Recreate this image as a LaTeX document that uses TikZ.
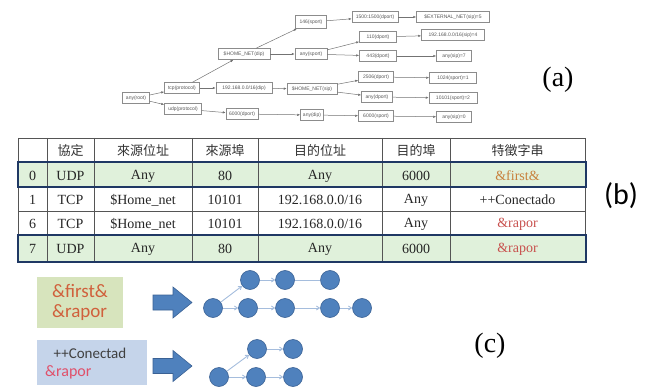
\documentclass[tikz,border=0pt]{standalone}
\usepackage{fontspec}
\setmainfont{Liberation Serif}
\newfontfamily\cjkfont{Noto Sans CJK TC}
\newfontfamily\calfont{Carlito}
\newfontfamily\grfont{Liberation Sans}
\usetikzlibrary{arrows.meta}

\definecolor{gridgrey}{HTML}{555555}
\definecolor{navy}{HTML}{1F3864}
\definecolor{rowgreen}{HTML}{E0F1DB}
\definecolor{firstcol}{HTML}{C8803C}
\definecolor{raporcol}{HTML}{C8504D}
\definecolor{boxgreen}{HTML}{D7E4BD}
\definecolor{boxblue}{HTML}{C5D4EA}
\definecolor{ctxt}{HTML}{D0603C}
\definecolor{cpink}{HTML}{E0506A}
\definecolor{arrblue}{HTML}{4F81BD}
\definecolor{arrdark}{HTML}{3A6194}
\definecolor{edgeblue}{HTML}{A5BDDD}

\tikzset{
  gnode/.style={draw=black!45, line width=0.5pt, fill=white, inner sep=0pt,
    minimum height=11pt, text=black!65, font=\grfont\fontsize{5}{5}\selectfont},
  gedge/.style={draw=black!55, line width=0.5pt, -{Latex[length=3pt,width=2.4pt]}},
  gridline/.style={draw=gridgrey, line width=0.7pt},
  navyline/.style={draw=navy, line width=2.2pt},
  cell/.style={inner sep=0pt, font=\rmfamily\fontsize{14}{14}\selectfont, text=black!85},
  hcell/.style={inner sep=0pt, font=\cjkfont\fontsize{13}{13}\selectfont, text=black!80},
  biglabel/.style={inner sep=0pt, font=\rmfamily\fontsize{28}{28}\selectfont},
  blockarrow/.style={fill=arrblue, draw=arrdark, line width=0.6pt},
  dot/.style={circle, fill=arrblue, draw=arrdark, line width=0.6pt, minimum size=19pt, inner sep=0pt},
  cedge/.style={draw=edgeblue, line width=0.9pt, -{Straight Barb[length=3pt,width=4pt]}},
  cline/.style={draw=edgeblue, line width=0.9pt},
}

\begin{document}
\begin{tikzpicture}[x=1pt,y=-1pt]
\useasboundingbox (0,0) rectangle (652,387);

% ---------------- (a) rule tree ----------------
\node[gnode, minimum width=27pt] (root)   at (136,98)  {any(root)};
\node[gnode, minimum width=35pt] (tcp)    at (182,88)  {tcp(protocol)};
\node[gnode, minimum width=37pt] (udp)    at (183,109) {udp(protocol)};
\node[gnode, minimum width=52pt] (hdip)   at (244,54)  {\$HOME\_NET(dip)};
\node[gnode, minimum width=56pt] (ndip)   at (244,88)  {192.168.0.0/16(dip)};
\node[gnode, minimum width=32pt] (dp6000) at (242,114) {6000(dport)};
\node[gnode, minimum width=31pt, minimum height=13pt] (sp146) at (311,22) {146(sport)};
\node[gnode, minimum width=32pt] (spany)  at (311,54)  {any(sport)};
\node[gnode, minimum width=50pt] (hsip)   at (312,89)  {\$HOME\_NET(sip)};
\node[gnode, minimum width=23pt] (dipany) at (312,115) {any(dip)};
\node[gnode, minimum width=46pt] (dp1500) at (375,17)  {1500:1500(dport)};
\node[gnode, minimum width=37pt] (dp110)  at (378,37)  {110(dport)};
\node[gnode, minimum width=37pt] (dp443)  at (378,56)  {443(dport)};
\node[gnode, minimum width=35pt] (dp2506) at (376,77)  {2506(dport)};
\node[gnode, minimum width=31pt] (dpany)  at (377,97)  {any(dport)};
\node[gnode, minimum width=35pt] (sp6000) at (376,116) {6000(sport)};
\node[gnode, minimum width=73pt] (ext)    at (453,17)  {\$EXTERNAL\_NET(sip)=5};
\node[gnode, minimum width=63pt] (sip4)   at (453,35)  {192.168.0.0/16(sip)=4};
\node[gnode, minimum width=35pt] (sip7)   at (454,56)  {any(sip)=7};
\node[gnode, minimum width=47pt] (sp1)    at (453,78)  {1024(sport)=1};
\node[gnode, minimum width=48pt] (sp2)    at (453,98)  {10101(sport)=2};
\node[gnode, minimum width=35pt] (sip0)   at (454,117) {any(sip)=0};

\draw[gedge] (root) -- (tcp);
\draw[gedge] (root) -- (udp);
\draw[gedge] (tcp) -- (hdip);
\draw[gedge] (tcp) -- (ndip);
\draw[gedge] (udp) -- (dp6000);
\draw[gedge] (hdip) -- (sp146);
\draw[gedge] (hdip) -- (spany);
\draw[gedge] (ndip) -- (hsip);
\draw[gedge] (dp6000) -- (dipany);
\draw[gedge] (sp146) -- (dp1500);
\draw[gedge] (spany) -- (dp110);
\draw[gedge] (spany) -- (dp443);
\draw[gedge] (hsip) -- (dp2506);
\draw[gedge] (hsip) -- (dpany);
\draw[gedge] (dipany) -- (sp6000);
\draw[gedge] (dp1500) -- (ext);
\draw[gedge] (dp110) -- (sip4);
\draw[gedge] (dp443) -- (sip7);
\draw[gedge] (dp2506) -- (sp1);
\draw[gedge] (dpany) -- (sp2);
\draw[gedge] (sp6000) -- (sip0);

\node[biglabel] (labela) at (558,80) {(a)};

% ---------------- (b) rule table ----------------
\fill[rowgreen] (18,162) rectangle (585,187);
\fill[rowgreen] (18,235) rectangle (585,262);
\foreach \yy in {138,162,187,211,235,262}
  \draw[gridline] (18,\yy) -- (585,\yy);
\foreach \xx in {18,47,94,192,258,382,450,585}
  \draw[gridline] (\xx,138) -- (\xx,262);
\draw[navyline] (18,162) rectangle (586,187);
\draw[navyline] (18,235) rectangle (586,262);

\node[hcell] (h1) at (70.5,151) {協定};
\node[hcell] (h2) at (143,151)  {來源位址};
\node[hcell] (h3) at (225,151)  {來源埠};
\node[hcell] (h4) at (320,151)  {目的位址};
\node[hcell] (h5) at (416,151)  {目的埠};
\node[hcell] (h6) at (517.5,151){特徵字串};

\node[cell] (a0) at (32.5,176) {0};
\node[cell] (a1) at (70.5,176) {UDP};
\node[cell] (a2) at (143,176)  {Any};
\node[cell] (a3) at (225,176)  {80};
\node[cell] (a4) at (320,176)  {Any};
\node[cell] (a5) at (416,176)  {6000};
\node[cell, text=firstcol] (a6) at (517.5,176) {\&first\&};

\node[cell] (b0) at (32.5,200) {1};
\node[cell] (b1) at (70.5,200) {TCP};
\node[cell] (b2) at (143,200)  {\$Home\_net};
\node[cell] (b3) at (225,200)  {10101};
\node[cell] (b4) at (320,200)  {192.168.0.0/16};
\node[cell] (b5) at (416,200)  {Any};
\node[cell] (b6) at (517.5,200){++Conectado};

\node[cell] (c0) at (32.5,224) {6};
\node[cell] (c1) at (70.5,224) {TCP};
\node[cell] (c2) at (143,224)  {\$Home\_net};
\node[cell] (c3) at (225,224)  {10101};
\node[cell] (c4) at (320,224)  {192.168.0.0/16};
\node[cell] (c5) at (416,224)  {Any};
\node[cell, text=raporcol] (c6) at (517.5,224) {\&rapor};

\node[cell] (d0) at (32.5,249) {7};
\node[cell] (d1) at (70.5,249) {UDP};
\node[cell] (d2) at (143,249)  {Any};
\node[cell] (d3) at (225,249)  {80};
\node[cell] (d4) at (320,249)  {Any};
\node[cell] (d5) at (416,249)  {6000};
\node[cell, text=raporcol] (d6) at (517.5,249) {\&rapor};

\node[inner sep=0pt, font=\calfont\fontsize{30}{30}\selectfont] (labelb) at (621,196) {(b)};

% ---------------- (c) signature graphs ----------------
\node[fill=boxgreen, minimum width=86pt, minimum height=51pt, inner sep=0pt,
      align=left, text=ctxt, font=\calfont\fontsize{19}{20}\selectfont] (gbox) at (80,302.5)
      {\&first\&\\\&rapor};

\node[fill=boxblue, minimum width=110pt, minimum height=45pt, inner sep=0pt] (bbox) at (92,362.5) {};
\node[inner sep=0pt, text=black!75, font=\calfont\fontsize{15}{15}\selectfont] (bt1) at (90,353) {++Conectad};
\node[inner sep=0pt, text=cpink, font=\calfont\fontsize{16}{16}\selectfont, anchor=west] (bt2) at (45,372) {\&rapor};

\draw[blockarrow] (153,295) -- (173,295) -- (173,287) -- (192,302.5) -- (173,318) -- (173,310) -- (153,310) -- cycle;
\draw[blockarrow] (153,358.5) -- (173,358.5) -- (173,350.5) -- (192,366) -- (173,381.5) -- (173,373.5) -- (153,373.5) -- cycle;

% first graph
\node[dot] (p0) at (213,308) {};
\node[dot] (t1) at (250,280) {};
\node[dot] (t2) at (285,280) {};
\node[dot] (t3) at (330,280) {};
\node[dot] (q1) at (248,308) {};
\node[dot] (q2) at (285,308) {};
\node[dot] (q3) at (330,308) {};
\node[dot] (q4) at (362,308) {};
\draw[cedge] (p0) -- (t1);
\draw[cedge] (t1) -- (t2);
\draw[cline] (t2) -- (t3);
\draw[cedge] (p0) -- (q1);
\draw[cedge] (q1) -- (q2);
\draw[cedge] (q2) -- (q3);
\draw[cedge] (q3) -- (q4);

% second graph
\node[dot] (r0) at (219,377) {};
\node[dot] (u1) at (257,349) {};
\node[dot] (u2) at (293,349) {};
\node[dot] (v1) at (256,377) {};
\node[dot] (v2) at (293,377) {};
\draw[cedge] (r0) -- (u1);
\draw[cedge] (u1) -- (u2);
\draw[cedge] (r0) -- (v1);
\draw[cedge] (v1) -- (v2);

\node[biglabel] (labelc) at (490,346) {(c)};
\end{tikzpicture}
\end{document}
